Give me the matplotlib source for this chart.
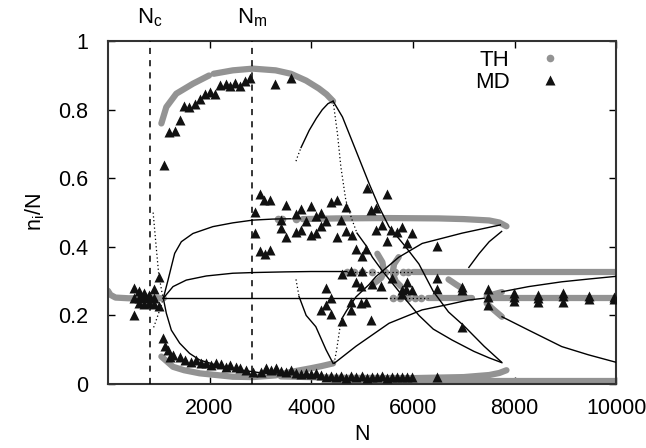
import matplotlib
matplotlib.use("Agg")
import matplotlib.pyplot as plt
from matplotlib.lines import Line2D

plt.rcParams['font.family'] = ['Liberation Sans', 'DejaVu Sans']
plt.rcParams['mathtext.fontset'] = 'custom'
plt.rcParams['mathtext.rm'] = 'Liberation Sans'
plt.rcParams['mathtext.it'] = 'Liberation Sans'

Nc = 820
Nm = 2840

# theory (TH), stable branches
th_sym_N = [0, 50, 150, 400, 800, 1100]
th_sym_y = [0.272, 0.26, 0.252, 0.25, 0.25, 0.25]
th_one_hia_N = [1052, 1150, 1346, 1673, 1990]
th_one_hia_y = [0.76, 0.808, 0.847, 0.876, 0.900]
th_one_hib_N = [2080, 2457, 2850, 3300, 3600, 3900, 4150, 4300, 4430]
th_one_hib_y = [0.905, 0.915, 0.92, 0.915, 0.905, 0.885, 0.862, 0.845, 0.825]
th_one_lo_N = [1052, 1281, 1500, 1804, 2200, 2457, 2850, 3300, 3600, 4000, 4200, 4430]
th_one_lo_y = [0.08, 0.05, 0.04, 0.031, 0.025, 0.021, 0.02, 0.025, 0.035, 0.046, 0.052, 0.06]
th_two_hi_N = [3830, 4500, 5500, 6500, 7000, 7500, 7700, 7840]
th_two_hi_y = [0.481, 0.483, 0.484, 0.483, 0.481, 0.477, 0.471, 0.46]
th_two_pts_N = [3350, 3420, 3700]
th_two_pts_y = [0.482, 0.48, 0.48]
th_two_lo_N = [3400, 4500, 6000, 7000, 7500, 7700, 7840]
th_two_lo_y = [0.022, 0.018, 0.017, 0.02, 0.026, 0.032, 0.04]
th_three_hi_N = [6000, 10000]
th_three_hi_y = [0.328, 0.328]
th_three_pts_N = [4700, 4850, 5000, 5200, 5450, 5650, 5800, 5900]
th_three_pts_y = [0.328, 0.328, 0.328, 0.328, 0.328, 0.328, 0.328, 0.328]
th_three_lo_N = [4450, 10000]
th_three_lo_y = [0.008, 0.008]
th_sym2a_N = [6300, 7160]
th_sym2a_y = [0.25, 0.25]
th_sym2b_N = [7450, 10000]
th_sym2b_y = [0.25, 0.25]
th_sym2_pts_N = [5600, 5750, 5900, 6050, 6150]
th_sym2_pts_y = [0.25, 0.25, 0.25, 0.25, 0.25]
th_r1_N = [7450, 7600, 7750]
th_r1_y = [0.255, 0.262, 0.268]
th_r2_N = [7450, 7600, 7750]
th_r2_y = [0.235, 0.215, 0.196]
th_g7_N = [6700, 6850, 6967]
th_g7_y = [0.305, 0.29, 0.279]
th_x1_N = [5300, 5400, 5430, 5380, 5250]
th_x1_y = [0.38, 0.355, 0.33, 0.31, 0.295]
th_x2_N = [5720, 5630, 5600, 5660, 5760]
th_x2_y = [0.37, 0.35, 0.325, 0.3, 0.285]

# theory, unstable branches (solid / dotted)
b_sym_N = [1090, 5470]
b_sym_y = [0.25, 0.25]
d_sym_N = [5470, 6300]
d_sym_y = [0.25, 0.25]
b_three_N = [1090, 1281, 1542, 1935, 2457, 2850, 3500, 4000, 4700]
b_three_y = [0.25, 0.284, 0.303, 0.315, 0.323, 0.325, 0.327, 0.328, 0.328]
d_three_N = [4700, 6000]
d_three_y = [0.328, 0.328]
b_two_N = [1090, 1183, 1248, 1314, 1445, 1673, 2065, 2457, 2850, 3240, 3600]
b_two_y = [0.25, 0.303, 0.342, 0.381, 0.415, 0.439, 0.459, 0.47, 0.478, 0.481, 0.482]
b_low_N = [1090, 1150, 1248, 1412, 1608, 1804, 2131, 2588, 2980, 3500]
b_low_y = [0.25, 0.206, 0.157, 0.119, 0.089, 0.07, 0.055, 0.041, 0.033, 0.027]
d_nc_hi_N = [890, 950, 1000, 1060, 1090]
d_nc_hi_y = [0.5, 0.40, 0.32, 0.27, 0.25]
d_nc_lo_N = [900, 960, 1030, 1090]
d_nc_lo_y = [0.165, 0.19, 0.22, 0.25]
d_one_N = [3700, 3730, 3800]
d_one_y = [0.65, 0.663, 0.69]
b_one_N = [3800, 3960, 4100, 4216, 4330, 4430]
b_one_y = [0.69, 0.74, 0.775, 0.80, 0.818, 0.825]
d_one_sub_N = [3700, 3730, 3760]
d_one_sub_y = [0.305, 0.28, 0.255]
b_one_sub_N = [3760, 3900, 4090, 4290, 4430]
b_one_sub_y = [0.255, 0.2, 0.167, 0.1, 0.06]
b5_N = [4430, 4614, 4876, 5137, 5333, 5529, 5857, 6118, 6400, 6700, 7000, 7400, 7740]
b5_y = [0.825, 0.779, 0.682, 0.585, 0.517, 0.459, 0.40, 0.35, 0.27, 0.21, 0.17, 0.11, 0.064]
d6_N = [4430, 4516, 4582, 4680, 4800, 4900]
d6_y = [0.825, 0.73, 0.634, 0.536, 0.48, 0.44]
b6_N = [4900, 5071, 5202, 5398, 5725, 6118, 6400, 6771, 7200, 7500, 7750]
b6_y = [0.44, 0.405, 0.37, 0.33, 0.27, 0.2, 0.16, 0.128, 0.095, 0.076, 0.062]
d8_N = [4450, 4500, 4560, 4600]
d8_y = [0.06, 0.1, 0.16, 0.19]
b8_N = [4600, 4700, 4880, 5137, 5270, 5725, 6183, 6967, 7720]
b8_y = [0.19, 0.215, 0.254, 0.29, 0.313, 0.37, 0.41, 0.44, 0.464]
b9_N = [4450, 4880, 5530, 6180, 6700, 7100, 7400]
b9_y = [0.06, 0.11, 0.177, 0.216, 0.232, 0.245, 0.25]
b_up_N = [7100, 7300, 7500, 7745]
b_up_y = [0.34, 0.38, 0.415, 0.445]
b_r1_N = [7750, 8275, 8927, 9451, 10000]
b_r1_y = [0.269, 0.284, 0.298, 0.306, 0.314]
b_r2_N = [7752, 8275, 8927, 9451, 10000]
b_r2_y = [0.196, 0.157, 0.109, 0.085, 0.063]

# molecular dynamics (MD)
md_N = [510, 614, 706, 810, 908, 510, 614, 706, 810, 908, 510, 614, 706, 810, 908, 1006, 1006,
        1084, 1118, 1183, 1216,
        1098, 1196, 1314, 1411, 1496, 1594, 1706, 1804, 1902, 2000, 2098, 2210, 2314, 2406, 2510,
        2602, 2706, 2804, 3294, 3601,
        1281, 1412, 1510, 1641, 1739, 1837, 1935, 2033, 2131, 2229, 2327, 2406, 2523, 2602, 2719,
        2850, 3013, 3111, 3209, 3307, 3405, 3503, 3601, 3699, 3797, 3895, 3993, 4091, 4190, 4288,
        4390, 4490, 4590, 4690, 4790, 4890, 4990, 5090, 5190, 5290, 5390, 5490, 5590, 5690, 5790,
        5890, 5990, 6476,
        2993, 3078, 3196, 2902, 3503, 3798, 3994, 4386, 4497, 4693, 5104, 3700, 4190, 3405, 3896,
        4092, 4288, 4582, 2902, 3405, 4190, 3798, 3700, 4092, 3994, 3503, 4497, 4693, 4797, 2993,
        3098, 3196, 4887, 5071, 5006,
        5496, 5182, 5280, 5385, 5280, 5575, 5778, 5680, 5975, 5484, 5876, 6476,
        4600, 4778, 5006, 4876, 4974, 4288, 4386, 4288, 4386, 4778, 4602,
        5203, 5366, 5594, 5888, 5778, 5869, 5987, 5778, 4778, 4974, 5071, 4190, 5170, 6967,
        6476, 6476, 6967, 6967, 7477, 7477, 7477, 7980, 7980, 7980, 8470, 8470, 8470, 8961, 8961,
        8961, 9471, 9471, 9961, 9961]
md_y = [0.279, 0.271, 0.264, 0.259, 0.276, 0.252, 0.25, 0.255, 0.25, 0.252, 0.201, 0.236, 0.233,
        0.236, 0.233, 0.228, 0.313,
        0.133, 0.112, 0.099, 0.078,
        0.638, 0.735, 0.738, 0.77, 0.81, 0.808, 0.818, 0.83, 0.845, 0.852, 0.847, 0.872, 0.874,
        0.869, 0.878, 0.869, 0.884, 0.893, 0.874, 0.894,
        0.085, 0.08, 0.07, 0.065, 0.07, 0.06, 0.062, 0.055, 0.06, 0.058, 0.05, 0.055, 0.05, 0.046,
        0.041, 0.036, 0.036, 0.046, 0.041, 0.046, 0.039, 0.036, 0.041, 0.031, 0.029, 0.033, 0.029,
        0.033, 0.026, 0.021,
        0.024, 0.02, 0.022, 0.018, 0.022, 0.02, 0.022, 0.018, 0.021, 0.02, 0.022, 0.018, 0.021,
        0.02, 0.021, 0.019, 0.021, 0.021,
        0.553, 0.538, 0.538, 0.502, 0.522, 0.509, 0.519, 0.53, 0.538, 0.517, 0.573, 0.495, 0.499,
        0.478, 0.475, 0.49, 0.475, 0.478, 0.441, 0.454, 0.461, 0.449, 0.444, 0.441, 0.434, 0.429,
        0.428, 0.447, 0.434, 0.389, 0.379, 0.391, 0.394, 0.394, 0.373,
        0.553, 0.507, 0.514, 0.464, 0.449, 0.449, 0.459, 0.444, 0.439, 0.418, 0.41, 0.403,
        0.32, 0.33, 0.33, 0.298, 0.286, 0.279, 0.25, 0.23, 0.203, 0.216, 0.184,
        0.293, 0.286, 0.308, 0.298, 0.274, 0.276, 0.274, 0.262, 0.24, 0.237, 0.24, 0.216, 0.188,
        0.167,
        0.308, 0.276, 0.284, 0.274, 0.276, 0.253, 0.23, 0.264, 0.253, 0.243, 0.259, 0.25, 0.24,
        0.266, 0.257, 0.24, 0.257, 0.247, 0.253, 0.247]

gray = '#939393'
fig = plt.figure(figsize=(6.46, 4.48), dpi=100)
ax = fig.add_axes([0.167, 0.143, 0.787, 0.765])

# TH bands
bands = [(th_sym_N, th_sym_y), (th_one_hia_N, th_one_hia_y), (th_one_hib_N, th_one_hib_y),
         (th_one_lo_N, th_one_lo_y), (th_two_hi_N, th_two_hi_y), (th_two_lo_N, th_two_lo_y),
         (th_three_hi_N, th_three_hi_y), (th_three_lo_N, th_three_lo_y),
         (th_sym2a_N, th_sym2a_y), (th_sym2b_N, th_sym2b_y), (th_r1_N, th_r1_y), (th_r2_N, th_r2_y),
         (th_g7_N, th_g7_y), (th_x1_N, th_x1_y), (th_x2_N, th_x2_y)]
for xs, ys in bands:
    ax.plot(xs, ys, color=gray, lw=4.5, solid_capstyle='round', zorder=2)
for xs, ys in [(th_two_pts_N, th_two_pts_y), (th_three_pts_N, th_three_pts_y),
               (th_sym2_pts_N, th_sym2_pts_y)]:
    ax.plot(xs, ys, 'o', color=gray, ms=5.5, mec='none', zorder=2)

# unstable theory lines
solid = [(b_sym_N, b_sym_y), (b_three_N, b_three_y), (b_two_N, b_two_y), (b_low_N, b_low_y),
         (b_one_N, b_one_y), (b_one_sub_N, b_one_sub_y), (b5_N, b5_y), (b6_N, b6_y), (b8_N, b8_y),
         (b9_N, b9_y), (b_up_N, b_up_y), (b_r1_N, b_r1_y), (b_r2_N, b_r2_y)]
for xs, ys in solid:
    ax.plot(xs, ys, color='black', lw=1.0, zorder=3)
dotted = [(d_sym_N, d_sym_y), (d_three_N, d_three_y), (d_nc_hi_N, d_nc_hi_y), (d_nc_lo_N, d_nc_lo_y),
          (d_one_N, d_one_y), (d_one_sub_N, d_one_sub_y), (d6_N, d6_y), (d8_N, d8_y)]
for xs, ys in dotted:
    ax.plot(xs, ys, color='black', lw=0.9, ls=(0, (1, 2)), zorder=3)

ax.plot(md_N, md_y, '^', color='#111111', ms=7, mec='none', zorder=4)

for xv in [Nc, Nm]:
    ax.plot([xv, xv], [0, 1], color='black', lw=1.1, ls=(0, (4, 4)), zorder=3)
ax.text(Nc, 1.035, r'N$_{\rm c}$', ha='center', va='bottom', fontsize=16)
ax.text(Nm, 1.035, r'N$_{\rm m}$', ha='center', va='bottom', fontsize=16)

ax.set_xlim(0, 10000)
ax.set_ylim(0, 1)
ax.set_xticks([2000, 4000, 6000, 8000, 10000])
ax.set_yticks([0, 0.2, 0.4, 0.6, 0.8, 1])
ax.set_yticklabels(['0', '0.2', '0.4', '0.6', '0.8', '1'])
ax.tick_params(direction='in', top=True, right=True, length=5, width=1, labelsize=15.5)
ax.tick_params(axis='y', pad=14)
ax.tick_params(axis='x', pad=10)
for s in ax.spines.values():
    s.set_linewidth(1.5)
    s.set_color('#333333')
ax.set_xlabel('N', fontsize=15.5, labelpad=4)
ax.set_ylabel(r'n$_{\rm i}$/N', fontsize=15.5, labelpad=8)

handles = [Line2D([], [], ls='none', marker='o', color=gray, mec='none', ms=5.5),
           Line2D([], [], ls='none', marker='^', color='#111111', mec='none', ms=7)]
ax.legend(handles, ['TH', 'MD'], loc='upper right', bbox_to_anchor=(0.943, 1.02), frameon=False,
          markerfirst=False, fontsize=16, handletextpad=0.8, labelspacing=0.05, borderpad=0.2)

fig.savefig('out.png', dpi=100)
